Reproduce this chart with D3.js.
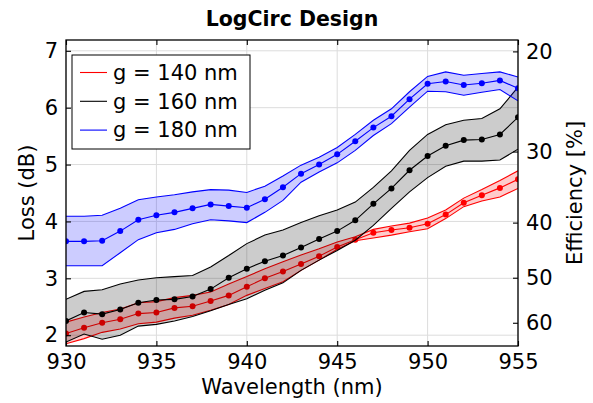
<!DOCTYPE html>
<html>
<head>
<meta charset="utf-8">
<script src="https://cdn.jsdelivr.net/npm/d3@7"></script>
<style>
  html, body { margin: 0; padding: 0; background: #fff; }
  svg text { font-family: "DejaVu Sans", sans-serif; fill: #000; }
</style>
</head>
<body>
<svg id="chart" width="593" height="403"></svg>
<script>
// Wavelength sweep (nm)
const wavelengths = [930, 931, 932, 933, 934, 935, 936, 937, 938, 939, 940, 941, 942,
                     943, 944, 945, 946, 947, 948, 949, 950, 951, 952, 953, 954, 955];

// Loss (dB): mean, lower and upper bound per gap width
const loss140 = [2.03, 2.13, 2.22, 2.28, 2.38, 2.40, 2.48, 2.51, 2.60, 2.70, 2.85, 3.00, 3.12,
                 3.25, 3.39, 3.55, 3.68, 3.80, 3.85, 3.89, 3.96, 4.12, 4.33, 4.46, 4.59, 4.74];
const low140  = [1.85, 1.94, 2.05, 2.11, 2.20, 2.23, 2.30, 2.35, 2.44, 2.54, 2.70, 2.82, 2.94,
                 3.14, 3.32, 3.51, 3.66, 3.71, 3.76, 3.82, 3.87, 4.05, 4.26, 4.36, 4.43, 4.58];
const high140 = [2.23, 2.32, 2.40, 2.46, 2.57, 2.59, 2.66, 2.70, 2.76, 2.90, 3.03, 3.17, 3.29,
                 3.41, 3.52, 3.64, 3.73, 3.86, 3.92, 3.97, 4.06, 4.20, 4.41, 4.56, 4.72, 4.89];

const loss160 = [2.25, 2.40, 2.37, 2.45, 2.57, 2.62, 2.63, 2.68, 2.81, 3.01, 3.17, 3.30, 3.40,
                 3.54, 3.69, 3.83, 4.02, 4.31, 4.58, 4.90, 5.15, 5.33, 5.43, 5.44, 5.53, 5.83];
const low160  = [1.88, 2.02, 1.93, 2.00, 2.16, 2.19, 2.25, 2.33, 2.43, 2.54, 2.64, 2.79, 2.92,
                 3.14, 3.32, 3.49, 3.67, 3.93, 4.23, 4.52, 4.77, 4.97, 5.06, 5.06, 5.08, 5.27];
const high160 = [2.63, 2.77, 2.80, 2.90, 2.97, 3.01, 3.03, 3.05, 3.20, 3.40, 3.61, 3.76, 3.85,
                 3.98, 4.10, 4.20, 4.34, 4.60, 4.89, 5.25, 5.53, 5.70, 5.78, 5.81, 5.98, 6.36];

const loss180 = [3.65, 3.65, 3.66, 3.83, 4.03, 4.11, 4.16, 4.23, 4.30, 4.27, 4.24, 4.39, 4.60,
                 4.84, 5.00, 5.18, 5.41, 5.65, 5.85, 6.15, 6.42, 6.46, 6.40, 6.43, 6.48, 6.34];
const low180  = [3.22, 3.22, 3.22, 3.45, 3.68, 3.80, 3.86, 3.96, 4.03, 4.01, 3.98, 4.16, 4.37,
                 4.69, 4.87, 5.03, 5.25, 5.51, 5.72, 6.01, 6.29, 6.28, 6.22, 6.27, 6.32, 6.12];
const high180 = [4.09, 4.09, 4.11, 4.23, 4.38, 4.43, 4.47, 4.52, 4.56, 4.55, 4.51, 4.62, 4.80,
                 4.99, 5.13, 5.30, 5.53, 5.78, 5.98, 6.28, 6.55, 6.63, 6.57, 6.60, 6.63, 6.54];

const seriesLabels = ["g = 140 nm", "g = 160 nm", "g = 180 nm"];
const seriesColors = ["#ff0000", "#000000", "#0000ff"];

const xTicks = [930, 935, 940, 945, 950, 955];
const lossTicks = [2, 3, 4, 5, 6, 7];
const effTicks = [20, 30, 40, 50, 60];

const series = [
  { label: seriesLabels[0], color: seriesColors[0], mean: loss140, low: low140, high: high140 },
  { label: seriesLabels[1], color: seriesColors[1], mean: loss160, low: low160, high: high160 },
  { label: seriesLabels[2], color: seriesColors[2], mean: loss180, low: low180, high: high180 }
];

const W = 593, H = 403;
const margin = { top: 40, right: 75, bottom: 57, left: 66 };
const iw = W - margin.left - margin.right;
const ih = H - margin.top - margin.bottom;
const FS = 21;

const svg = d3.select("#chart");
const g = svg.append("g").attr("transform", `translate(${margin.left},${margin.top})`);

const x = d3.scaleLinear().domain([930, 955]).range([0, iw]);
const y = d3.scaleLinear().domain([1.81, 7.19]).range([ih, 0]);
// Efficiency axis: loss(dB) = -10*log10(eff/100), so efficiency is log-scaled against y
const effDomain = y.domain().map(d => 100 * Math.pow(10, -d / 10));
const yEff = d3.scaleLog().domain(effDomain).range([ih, 0]);

// clip for data marks
svg.append("defs").append("clipPath").attr("id", "plotClip")
  .append("rect").attr("width", iw).attr("height", ih);

// grid
const grid = g.append("g").attr("stroke", "#dcdcdc").attr("stroke-width", 1);
grid.selectAll("line.v").data(xTicks).join("line")
  .attr("x1", d => x(d)).attr("x2", d => x(d)).attr("y1", 0).attr("y2", ih);
grid.selectAll("line.h").data(lossTicks).join("line")
  .attr("y1", d => y(d)).attr("y2", d => y(d)).attr("x1", 0).attr("x2", iw);

const plot = g.append("g").attr("clip-path", "url(#plotClip)");

const area = d3.area()
  .x((d, i) => x(wavelengths[i]))
  .y0(d => y(d[0])).y1(d => y(d[1]));
const line = d3.line().x((d, i) => x(wavelengths[i])).y(d => y(d));

series.forEach(s => {
  const band = s.low.map((v, i) => [v, s.high[i]]);
  const sg = plot.append("g");
  sg.append("path").datum(band).attr("d", area)
    .attr("fill", s.color).attr("fill-opacity", 0.2).attr("stroke", "none");
  [s.low, s.high, s.mean].forEach(arr => {
    sg.append("path").datum(arr).attr("d", line)
      .attr("fill", "none").attr("stroke", s.color).attr("stroke-width", 1.1);
  });
  sg.selectAll("circle").data(s.mean).join("circle")
    .attr("cx", (d, i) => x(wavelengths[i])).attr("cy", d => y(d))
    .attr("r", 3).attr("fill", s.color);
});

// axes
function styleAxis(sel) {
  sel.select(".domain").remove();
  sel.selectAll(".tick line").attr("stroke", "#000").attr("stroke-width", 1.1);
  sel.selectAll("text").attr("font-size", FS).attr("font-family", "DejaVu Sans");
}
g.append("g").attr("transform", `translate(0,${ih})`)
  .call(d3.axisBottom(x).tickValues(xTicks).tickFormat(d3.format("d"))
    .tickSizeInner(-5).tickSizeOuter(0).tickPadding(8))
  .call(styleAxis);
g.append("g")
  .call(d3.axisTop(x).tickValues(xTicks).tickSizeInner(-5).tickSizeOuter(0).tickFormat(""))
  .call(styleAxis);
g.append("g")
  .call(d3.axisLeft(y).tickValues(lossTicks).tickFormat(d3.format("d"))
    .tickSizeInner(-5).tickSizeOuter(0).tickPadding(8))
  .call(styleAxis);
g.append("g").attr("transform", `translate(${iw},0)`)
  .call(d3.axisRight(yEff).tickValues(effTicks).tickFormat(d3.format("d"))
    .tickSizeInner(-5).tickSizeOuter(0).tickPadding(8))
  .call(styleAxis);

// frame
g.append("rect").attr("width", iw).attr("height", ih)
  .attr("fill", "none").attr("stroke", "#000").attr("stroke-width", 1.3);

// legend
const lg = g.append("g").attr("transform", "translate(6,15)");
lg.append("rect").attr("width", 178).attr("height", 94)
  .attr("fill", "#fff").attr("stroke", "#000").attr("stroke-width", 1);
series.forEach((s, i) => {
  const cy = 17.5 + i * 28.8;
  lg.append("line").attr("x1", 8).attr("x2", 35).attr("y1", cy).attr("y2", cy)
    .attr("stroke", s.color).attr("stroke-width", 1.1);
  lg.append("text").attr("x", 41).attr("y", cy).attr("dy", "0.35em")
    .attr("font-size", FS).text(s.label);
});

// titles
svg.append("text").attr("x", margin.left + iw / 2).attr("y", 26)
  .attr("text-anchor", "middle").attr("font-size", 20.5).attr("font-weight", "bold")
  .text("LogCirc Design");
svg.append("text").attr("x", margin.left + iw / 2).attr("y", 394)
  .attr("text-anchor", "middle").attr("font-size", FS).text("Wavelength (nm)");
svg.append("text").attr("transform", `translate(34,${margin.top + ih / 2}) rotate(-90)`)
  .attr("text-anchor", "middle").attr("font-size", FS).text("Loss (dB)");
svg.append("text").attr("transform", `translate(582,${margin.top + ih / 2}) rotate(-90)`)
  .attr("text-anchor", "middle").attr("font-size", FS).text("Efficiency [%]");
</script>
</body>
</html>
